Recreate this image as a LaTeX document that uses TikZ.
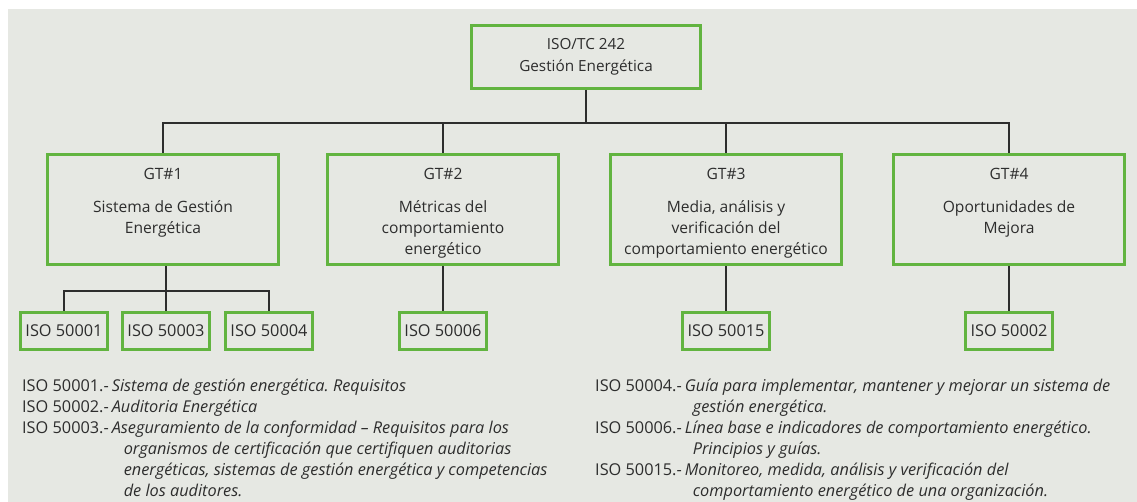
\documentclass[tikz,border=0pt]{standalone}
\usepackage{fontspec}
\setmainfont{Open Sans}
\usetikzlibrary{positioning}
\frenchspacing

\definecolor{isogreen}{RGB}{98,180,64}
\definecolor{panel}{RGB}{230,232,227}
\definecolor{ink}{RGB}{45,45,45}

\begin{document}
\begin{tikzpicture}[x=1pt,y=-1pt,
    gtbox/.style={draw=isogreen,line width=2.8pt,minimum width=231pt,minimum height=110pt,inner sep=0pt},
    isobox/.style={draw=isogreen,line width=2.8pt,minimum width=87pt,minimum height=37pt,inner sep=0pt,
        text=ink,font=\fontsize{16.3}{18}\selectfont},
    gttext/.style={text=ink,inner sep=0pt,font=\fontsize{15.6}{21}\selectfont},
    notes/.style={text=ink,inner sep=0pt,anchor=base west,font=\fontsize{16.3}{21}\selectfont},
    link/.style={draw=ink,line width=1.3pt}]
    % frame
    \fill[white] (0,0) rectangle (1137,502);
    \fill[panel] (8,9) rectangle (1137,502);
    \useasboundingbox (0,0) rectangle (1137,502);

    % top
    \node[draw=isogreen,line width=2.8pt,minimum width=229pt,minimum height=63pt,inner sep=0pt,
        align=center,text=ink,font=\fontsize{15.3}{22}\selectfont] (tc) at (586,57) {ISO/TC 242\\Gestión Energética};

    % working groups
    \node[gtbox] (gt1) at (163,209.5) {};
    \node[gtbox] (gt2) at (443,209.5) {};
    \node[gtbox] (gt3) at (726,209.5) {};
    \node[gtbox] (gt4) at (1009,209.5) {};
    \node[gttext] (gt1t) at ([yshift=-21pt]gt1.north) {GT\#1};
    \node[gttext] (gt2t) at ([yshift=-21pt]gt2.north) {GT\#2};
    \node[gttext] (gt3t) at ([yshift=-21pt]gt3.north) {GT\#3};
    \node[gttext] (gt4t) at ([yshift=-21pt]gt4.north) {GT\#4};
    \node[gttext,anchor=base] (gt1b) at ([yshift=-59pt]gt1.north) {\begin{tabular}[t]{@{}c@{}}Sistema de Gestión\\Energética\end{tabular}};
    \node[gttext,anchor=base] (gt2b) at ([yshift=-59pt]gt2.north) {\begin{tabular}[t]{@{}c@{}}Métricas del\\comportamiento\\energético\end{tabular}};
    \node[gttext,anchor=base] (gt3b) at ([yshift=-59pt]gt3.north) {\begin{tabular}[t]{@{}c@{}}Media, análisis y\\verificación del\\comportamiento energético\end{tabular}};
    \node[gttext,anchor=base] (gt4b) at ([yshift=-59pt]gt4.north) {\begin{tabular}[t]{@{}c@{}}Oportunidades de\\Mejora\end{tabular}};

    % standards
    \node[isobox] (iso1) at (64,331) {ISO 50001};
    \node[isobox] (iso3) at (166,331) {ISO 50003};
    \node[isobox] (iso4) at (269,331) {ISO 50004};
    \node[isobox] (iso6) at (443,331) {ISO 50006};
    \node[isobox] (iso15) at (726,331) {ISO 50015};
    \node[isobox] (iso2) at (1009,331) {ISO 50002};

    % links
    \coordinate (bus) at (586,123);
    \coordinate (bus1) at (166,291);
    \draw[link] (tc.south) -- (tc.south |- bus);
    \foreach \g in {gt1,gt2,gt3,gt4}
        \draw[link] (tc.south |- bus) -| (\g.north);
    \draw[link] (gt1.south -| bus1) -- (bus1);
    \foreach \s in {iso1,iso3,iso4}
        \draw[link] (bus1) -| (\s.north);
    \draw[link] (gt2.south) -- (iso6.north);
    \draw[link] (gt3.south) -- (iso15.north);
    \draw[link] (gt4.south) -- (iso2.north);

    % notes
    \node[notes] (notesl) at (22,391) {\begin{tabular}[t]{@{}l@{\hspace{3pt}}l@{}}
        ISO 50001.- & \textit{Sistema de gestión energética. Requisitos}\\
        ISO 50002.- & \textit{Auditoria Energética}\\
        ISO 50003.- & \textit{Aseguramiento de la conformidad – Requisitos para los}\\
        & \hspace*{12pt}\textit{organismos de certificación que certifiquen auditorias}\\
        & \hspace*{12pt}\textit{energéticas, sistemas de gestión energética y competencias}\\
        & \hspace*{12pt}\textit{de los auditores.}
    \end{tabular}};
    \node[notes] (notesr) at (595,391) {\begin{tabular}[t]{@{}l@{\hspace{3pt}}l@{}}
        ISO 50004.- & \textit{Guía para implementar, mantener y mejorar un sistema de}\\
        & \hspace*{8pt}\textit{gestión energética.}\\
        ISO 50006.- & \textit{Línea base e indicadores de comportamiento energético.}\\
        & \hspace*{8pt}\textit{Principios y guías.}\\
        ISO 50015.- & \textit{Monitoreo, medida, análisis y verificación del}\\
        & \hspace*{8pt}\textit{comportamiento energético de una organización.}
    \end{tabular}};
\end{tikzpicture}
\end{document}
